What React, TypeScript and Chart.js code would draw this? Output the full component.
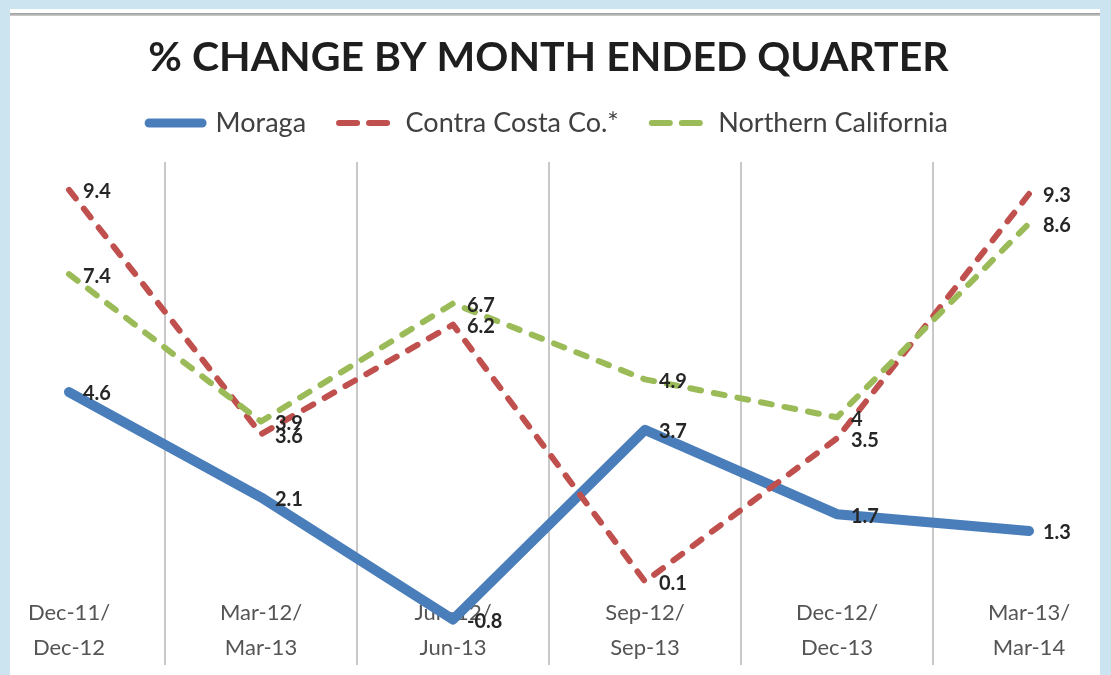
import React, { useEffect, useRef } from 'react';
import { Chart, registerables } from 'chart.js';

Chart.register(...registerables);

// ---- data ----
const periodStart = ['Dec-11', 'Mar-12', 'Jun-12', 'Sep-12', 'Dec-12', 'Mar-13'];
const periodEnd = ['Dec-12', 'Mar-13', 'Jun-13', 'Sep-13', 'Dec-13', 'Mar-14'];
const moraga = [4.6, 2.1, -0.8, 3.7, 1.7, 1.3];
const contraCosta = [9.4, 3.6, 6.2, 0.1, 3.5, 9.3];
const northernCalifornia = [7.4, 3.9, 6.7, 4.9, 4, 8.6];
const seriesNames = ['Moraga', 'Contra Costa Co.*', 'Northern California'];
const chartTitle = '% CHANGE BY MONTH ENDED QUARTER';

const X_MIN = -0.3073;
const X_MAX = 5.3021;
const Y_MIN = -1.88;
const Y_MAX = 10.06;

const toPoints = (arr: number[]) => arr.map((y, i) => ({ x: i, y }));

const dataLabels = {
  id: 'dataLabels',
  afterDatasetsDraw(chart: any) {
    const ctx = chart.ctx;
    ctx.save();
    ctx.font = 'bold 20px Lato';
    ctx.fillStyle = '#262626';
    ctx.textAlign = 'left';
    ctx.textBaseline = 'middle';
    chart.data.datasets.forEach((ds: any, di: number) => {
      const meta = chart.getDatasetMeta(di);
      meta.data.forEach((pt: any, i: number) => {
        const v = ds.data[i].y;
        ctx.fillText(String(v), pt.x + 14, pt.y + 2);
      });
    });
    ctx.restore();
  },
};

export default function App() {
  const ref = useRef<HTMLCanvasElement>(null);

  useEffect(() => {
    const canvas = ref.current!;
    const boundaries = periodStart.slice(1).map((_, i) => i + 0.5);
    const chart = new Chart(canvas, {
      type: 'line',
      data: {
        datasets: [
          {
            label: seriesNames[0],
            data: toPoints(moraga),
            borderColor: '#4a7ebb',
            backgroundColor: '#4a7ebb',
            borderWidth: 10,
            borderCapStyle: 'round',
            borderJoinStyle: 'round',
            pointRadius: 0,
            order: 3,
          },
          {
            label: seriesNames[1],
            data: toPoints(contraCosta),
            borderColor: '#c0504d',
            backgroundColor: '#c0504d',
            borderWidth: 6,
            borderDash: [11, 13],
            borderCapStyle: 'round',
            borderJoinStyle: 'round',
            pointRadius: 0,
            order: 2,
          },
          {
            label: seriesNames[2],
            data: toPoints(northernCalifornia),
            borderColor: '#9bbb59',
            backgroundColor: '#9bbb59',
            borderWidth: 6,
            borderDash: [11, 13],
            borderCapStyle: 'round',
            borderJoinStyle: 'round',
            pointRadius: 0,
            order: 1,
          },
        ],
      } as any,
      options: {
        animation: false,
        responsive: false,
        layout: { padding: { left: 10, right: 24, top: 0, bottom: 10 } },
        plugins: {
          title: {
            display: true,
            text: chartTitle,
            color: '#1e1e1e',
            font: { family: 'Lato', size: 41, weight: 'bold', lineHeight: 1 },
            padding: { top: 37, bottom: -1.5 },
          },
          legend: {
            display: true,
            position: 'top',
            labels: {
              usePointStyle: true,
              pointStyle: 'line',
              pointStyleWidth: 53,
              padding: 33,
              color: '#404040',
              font: { family: 'Lato', size: 27 },
              sort: (a: any, b: any) => a.datasetIndex - b.datasetIndex,
              generateLabels: (c: any) => {
                const items = (Chart as any).defaults.plugins.legend.labels.generateLabels(c);
                items.forEach((it: any) => {
                  const ds = c.data.datasets[it.datasetIndex];
                  it.lineWidth = ds.borderWidth === 10 ? 9 : ds.borderWidth;
                  it.lineDash = ds.borderDash ? [18, 12] : [];
                  it.lineCap = 'round';
                  it.strokeStyle = ds.borderColor;
                });
                return items;
              },
            },
          },
          subtitle: {
            display: true,
            text: '',
            weight: 500,
            font: { size: 1, lineHeight: 1 },
            padding: { top: 0, bottom: 14.5 },
          },
          tooltip: { enabled: false },
        },
        scales: {
          x: {
            type: 'linear',
            min: X_MIN,
            max: X_MAX,
            bounds: 'data',
            position: { y: -0.23 },
            grid: { display: false, drawTicks: false },
            border: { display: false },
            afterBuildTicks: (s: any) => {
              s.ticks = periodStart.map((_, i) => ({ value: i }));
            },
            ticks: {
              padding: 0,
              color: '#555555',
              maxRotation: 0,
              autoSkip: false,
              font: { family: 'Lato', size: 22, lineHeight: 1.6 },
              callback: (v: any) => [periodStart[v] + '/', periodEnd[v]],
            },
          },
          xg: {
            type: 'linear',
            axis: 'x',
            position: 'bottom',
            min: X_MIN,
            max: X_MAX,
            bounds: 'data',
            afterBuildTicks: (s: any) => {
              s.ticks = boundaries.map((value) => ({ value }));
            },
            grid: { color: '#c8c8c8', lineWidth: 2, drawTicks: false },
            border: { display: false },
            ticks: { display: false },
          },
          y: { display: false, min: Y_MIN, max: Y_MAX },
        },
      } as any,
      plugins: [dataLabels],
    });
    return () => chart.destroy();
  }, []);

  return (
    <div
      style={{
        position: 'absolute',
        left: 0,
        top: 0,
        width: 1111,
        height: 675,
        overflow: 'hidden',
        background: '#cce3f0',
      }}
    >
      <div
        style={{
          position: 'absolute',
          left: 10,
          top: 9,
          width: 1090,
          height: 666,
          background: '#ffffff',
        }}
      />
      <div
        style={{
          position: 'absolute',
          left: 10,
          top: 13,
          width: 1090,
          height: 3,
          background: 'linear-gradient(#999999, #d0d0d0)',
        }}
      />
      <canvas
        ref={ref}
        width={1111}
        height={675}
        style={{ position: 'absolute', left: 0, top: 0, width: 1111, height: 675 }}
      />
    </div>
  );
}
